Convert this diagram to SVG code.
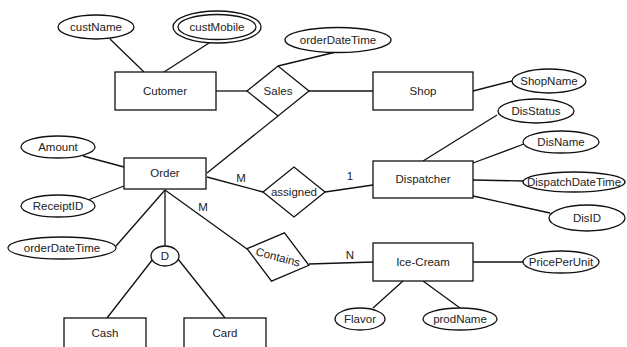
<svg xmlns="http://www.w3.org/2000/svg" width="627" height="347" viewBox="0 0 627 347">
<style>
.s{fill:#fff;stroke:#111;stroke-width:1.3}
.c line{stroke:#111;stroke-width:1.3}
text{font-family:"Liberation Sans",Arial,sans-serif;font-size:11.5px;fill:#222;text-anchor:middle}
</style>
<rect width="627" height="347" fill="#fff"/>
<g class="c" id="connectors">
<line x1="110" y1="39" x2="144" y2="72"/>
<line x1="209" y1="43" x2="164" y2="72"/>
<line x1="216" y1="91" x2="247" y2="91"/>
<line x1="309" y1="91" x2="373" y2="91"/>
<line x1="336" y1="52" x2="278" y2="66"/>
<line x1="473" y1="91" x2="512" y2="81"/>
<line x1="207" y1="173" x2="278" y2="116"/>
<line x1="83" y1="156" x2="124" y2="167"/>
<line x1="88" y1="200" x2="124" y2="186"/>
<line x1="207" y1="177" x2="263" y2="192"/>
<line x1="325" y1="192" x2="373" y2="185"/>
<line x1="423" y1="161" x2="497" y2="115"/>
<line x1="473" y1="163" x2="524" y2="144"/>
<line x1="473" y1="180" x2="523" y2="181"/>
<line x1="473" y1="196" x2="550" y2="213"/>
<line x1="116" y1="246" x2="165" y2="190"/>
<line x1="165" y1="190" x2="165" y2="246"/>
<line x1="165" y1="190" x2="247" y2="249"/>
<line x1="153" y1="259" x2="107" y2="318"/>
<line x1="178" y1="259" x2="225" y2="318"/>
<line x1="309" y1="264" x2="373" y2="262"/>
<line x1="473" y1="262" x2="523" y2="262"/>
<line x1="403" y1="281" x2="373" y2="308"/>
<line x1="423" y1="281" x2="460" y2="308"/>
</g>
<g id="custName"><ellipse class="s" cx="96" cy="27" rx="38" ry="12"/><text x="96" y="31">custName</text></g>
<g id="custMobile"><ellipse class="s" cx="217" cy="27" rx="44" ry="16"/><ellipse class="s" cx="217" cy="27" rx="39" ry="12.5"/><text x="217" y="31">custMobile</text></g>
<g id="Cutomer"><rect class="s" x="115" y="72" width="101" height="38"/><text x="165" y="95">Cutomer</text></g>
<g id="Sales"><polygon class="s" points="247,91 278,66 309,91 278,116"/><text x="278" y="95">Sales</text></g>
<g id="orderDateTime1"><ellipse class="s" cx="338" cy="40" rx="53" ry="12.5"/><text x="338" y="44">orderDateTime</text></g>
<g id="Shop"><rect class="s" x="373" y="72" width="100" height="38"/><text x="423" y="95">Shop</text></g>
<g id="ShopName"><ellipse class="s" cx="549" cy="81" rx="37" ry="12"/><text x="549" y="85">ShopName</text></g>
<g id="DisStatus"><ellipse class="s" cx="536" cy="111" rx="38" ry="12"/><text x="536" y="115">DisStatus</text></g>
<g id="DisName"><ellipse class="s" cx="561" cy="142" rx="38" ry="11"/><text x="561" y="146">DisName</text></g>
<g id="DispatchDateTime"><ellipse class="s" cx="574" cy="182" rx="51" ry="10"/><text x="574" y="186">DispatchDateTime</text></g>
<g id="DisID"><ellipse class="s" cx="587" cy="218" rx="38" ry="13"/><text x="587" y="222">DisID</text></g>
<g id="Dispatcher"><rect class="s" x="373" y="161" width="100" height="37"/><text x="423" y="183">Dispatcher</text></g>
<g id="assigned"><polygon class="s" points="263,192 294,167 325,192 294,217"/><text x="294" y="196">assigned</text></g>
<g id="Amount"><ellipse class="s" cx="58" cy="147" rx="37" ry="11"/><text x="58" y="151">Amount</text></g>
<g id="ReceiptID"><ellipse class="s" cx="58" cy="206" rx="37" ry="11"/><text x="58" y="210">ReceiptID</text></g>
<g id="Order"><rect class="s" x="124" y="158" width="82" height="31"/><text x="165" y="177">Order</text></g>
<g id="orderDateTime2"><ellipse class="s" cx="62" cy="248" rx="54" ry="11"/><text x="62" y="252">orderDateTime</text></g>
<g id="D"><ellipse class="s" cx="165" cy="256" rx="14" ry="10"/><text x="165" y="260">D</text></g>
<g id="Cash"><rect class="s" x="64" y="318" width="82" height="32"/><text x="105" y="337">Cash</text></g>
<g id="Card"><rect class="s" x="184" y="318" width="82" height="32"/><text x="225" y="337">Card</text></g>
<g id="Contains" transform="translate(278,257) rotate(15)"><polygon class="s" points="-32,0 0,-25 32,0 0,25"/><text x="0" y="4">Contains</text></g>
<g id="IceCream"><rect class="s" x="373" y="243" width="100" height="38"/><text x="423" y="266">Ice-Cream</text></g>
<g id="PricePerUnit"><ellipse class="s" cx="561" cy="262" rx="38" ry="11"/><text x="561" y="266">PricePerUnit</text></g>
<g id="Flavor"><ellipse class="s" cx="360" cy="319" rx="25" ry="11"/><text x="360" y="323">Flavor</text></g>
<g id="prodName"><ellipse class="s" cx="460" cy="319" rx="37" ry="11"/><text x="460" y="323">prodName</text></g>
<g id="labels">
<text x="241" y="182">M</text>
<text x="350" y="180">1</text>
<text x="203" y="211">M</text>
<text x="350" y="259">N</text>
</g>
</svg>
